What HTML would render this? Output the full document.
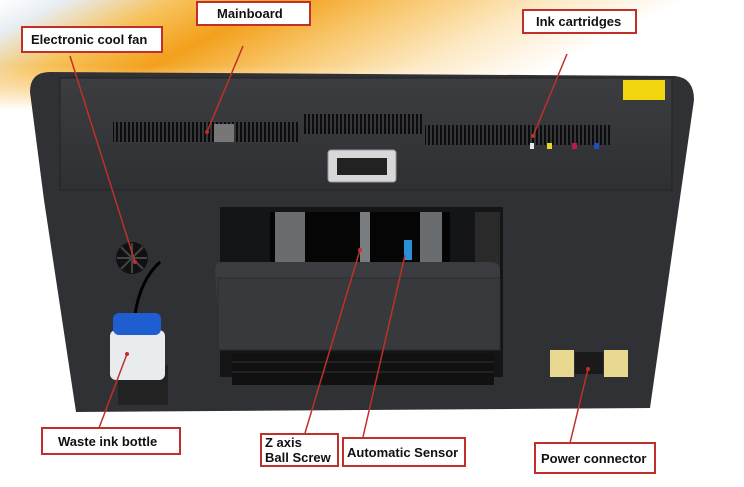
<!DOCTYPE html>
<html><head><style>
body{margin:0;width:744px;height:482px;overflow:hidden;background:#fff;font-family:"Liberation Sans",sans-serif}
</style></head><body>
<svg width="744" height="482" viewBox="0 0 744 482" xmlns="http://www.w3.org/2000/svg">
<defs>
<linearGradient id="bg" x1="0" y1="0" x2="1" y2="0.3">
<stop offset="0" stop-color="#fff"/><stop offset="0.08" stop-color="#e8eef5"/>
<stop offset="0.22" stop-color="#f7c25a"/><stop offset="0.35" stop-color="#f3a01c"/>
<stop offset="0.5" stop-color="#f8c66a"/><stop offset="0.68" stop-color="#fde9c4"/>
<stop offset="0.85" stop-color="#fff"/></linearGradient>
<linearGradient id="fade" x1="0" y1="0" x2="0" y2="1"><stop offset="0.6" stop-color="#fff" stop-opacity="0"/><stop offset="1" stop-color="#fff" stop-opacity="1"/></linearGradient>
<linearGradient id="body" x1="0" y1="0" x2="0" y2="1"><stop offset="0" stop-color="#3b3d40"/><stop offset="1" stop-color="#2e3033"/></linearGradient>
<pattern id="vent" width="4" height="10" patternUnits="userSpaceOnUse"><rect width="2" height="10" fill="#0c0c0d"/></pattern>
</defs>
<rect width="744" height="110" fill="url(#bg)"/>
<rect width="744" height="110" fill="url(#fade)"/>
<!-- body -->
<path d="M30 92 Q30 72 50 72 L675 76 Q694 78 694 100 L650 408 L76 412 L44 200 Z" fill="#2f3134"/>
<rect x="60" y="78" width="612" height="112" fill="url(#body)" stroke="#222" stroke-width="1"/>
<!-- vents -->
<rect x="113" y="122" width="186" height="20" fill="url(#vent)"/>
<rect x="304" y="114" width="118" height="20" fill="url(#vent)"/>
<rect x="425" y="125" width="185" height="20" fill="url(#vent)"/>
<rect x="214" y="124" width="20" height="18" fill="#777"/>
<rect x="530" y="143" width="4" height="6" fill="#e8e8e8"/><rect x="547" y="143" width="5" height="6" fill="#e4d820"/><rect x="572" y="143" width="5" height="6" fill="#c01848"/><rect x="594" y="143" width="5" height="6" fill="#2050c0"/>
<rect x="623" y="80" width="42" height="20" fill="#f2d60d"/>
<!-- handle -->
<rect x="328" y="150" width="68" height="32" rx="3" fill="#d8d8d8" stroke="#999"/>
<rect x="337" y="158" width="50" height="17" fill="#222"/>
<!-- window -->
<rect x="220" y="207" width="283" height="170" fill="#141516"/>
<rect x="270" y="212" width="180" height="50" fill="#050505"/>
<rect x="275" y="212" width="30" height="52" fill="#6a6d70"/>
<rect x="360" y="212" width="10" height="55" fill="#7a7d80"/>
<rect x="420" y="212" width="22" height="55" fill="#6a6d70"/>
<rect x="475" y="212" width="25" height="60" fill="#2a2a2a"/>
<rect x="404" y="240" width="8" height="20" fill="#2a8fd8"/>
<path d="M215 270 Q215 262 222 262 L490 262 Q500 262 500 270 L500 350 L220 350 Z" fill="#3a3c3f"/>
<rect x="218" y="278" width="282" height="72" fill="#38393c" stroke="#2a2b2d"/>
<rect x="232" y="353" width="262" height="32" fill="#111"/>
<line x1="232" y1="362" x2="494" y2="362" stroke="#333"/><line x1="232" y1="372" x2="494" y2="372" stroke="#333"/>
<!-- fan -->
<circle cx="132" cy="258" r="16" fill="#111"/>
<path d="M117 258h30M132 243v30M121 247l22 22M143 247l-22 22" stroke="#444" stroke-width="2"/>
<path d="M160 262 Q140 280 135 315" stroke="#000" stroke-width="3" fill="none"/>
<!-- bottle -->
<rect x="118" y="365" width="50" height="40" fill="#222"/>
<rect x="110" y="330" width="55" height="50" rx="6" fill="#e8ecef"/>
<rect x="113" y="313" width="48" height="22" rx="6" fill="#1f5ed0"/>
<!-- power -->
<rect x="550" y="350" width="24" height="27" fill="#e8d890"/>
<rect x="604" y="350" width="24" height="27" fill="#e8d890"/>
<rect x="575" y="352" width="28" height="22" fill="#1a1a1a"/>
<!-- connector lines -->
<g stroke="#c0302a" stroke-width="1.5" fill="none">
<line x1="243" y1="46" x2="207" y2="132"/>
<line x1="70" y1="56" x2="135" y2="262"/>
<line x1="567" y1="54" x2="533" y2="136"/>
<line x1="127" y1="354" x2="99" y2="428"/>
<line x1="360" y1="250" x2="305" y2="433"/>
<line x1="405" y1="255" x2="363" y2="437"/>
<line x1="588" y1="369" x2="570" y2="443"/>
</g>
<g fill="#c0302a"><circle cx="207" cy="132" r="2"/><circle cx="135" cy="262" r="2"/><circle cx="533" cy="136" r="2"/><circle cx="127" cy="354" r="2"/><circle cx="360" cy="250" r="2"/><circle cx="588" cy="369" r="2"/></g>
<!-- labels -->
<g fill="#fff" stroke="#c0302a" stroke-width="2">
<rect x="197" y="2" width="113" height="23"/>
<rect x="22" y="27" width="140" height="25"/>
<rect x="523" y="10" width="113" height="23"/>
<rect x="42" y="428" width="138" height="26"/>
<rect x="261" y="434" width="77" height="32"/>
<rect x="343" y="438" width="122" height="28"/>
<rect x="535" y="443" width="120" height="30"/>
</g>
<g font-family="Liberation Sans,sans-serif" font-size="13" font-weight="bold" fill="#111">
<text x="217" y="18">Mainboard</text>
<text x="31" y="44">Electronic cool fan</text>
<text x="536" y="26">Ink cartridges</text>
<text x="58" y="446">Waste ink bottle</text>
<text x="265" y="447">Z axis</text>
<text x="265" y="462">Ball Screw</text>
<text x="347" y="457">Automatic Sensor</text>
<text x="541" y="463">Power connector</text>
</g>
</svg>
</body></html>
